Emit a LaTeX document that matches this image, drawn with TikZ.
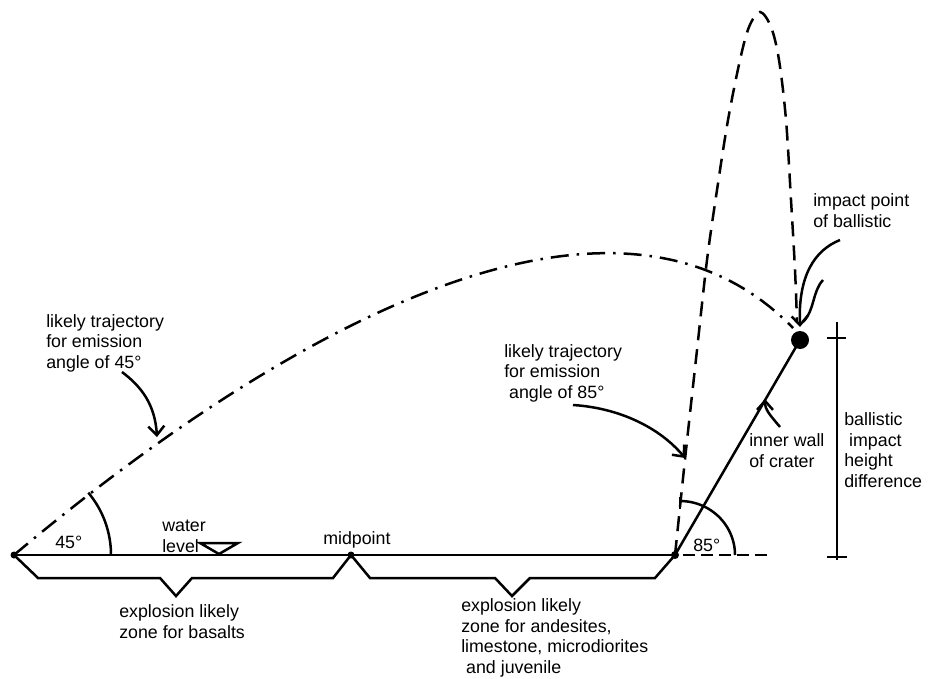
\documentclass[tikz,border=0pt]{standalone}
\usepackage{fontspec}
\setmainfont{Liberation Sans}
\usetikzlibrary{arrows.meta}
\begin{document}
\begin{tikzpicture}[x=1pt,y=-1pt,line width=2.5pt,
  lbl/.style={font=\fontsize{17.8}{20.5}\selectfont,align=left,anchor=base west,inner sep=0pt},
  ptr/.style={-{Straight Barb[length=9pt,width=16pt]}},
  dashdotline/.style={dash pattern=on 18pt off 8pt on 2.5pt off 8pt},
  dashline/.style={dash pattern=on 15pt off 9pt},
  shortdash/.style={dash pattern=on 12pt off 6pt},
  dot/.style={circle,fill,inner sep=0pt,minimum size=#1}]
\useasboundingbox (0,0) rectangle (936,679);

% key points
\node[dot=7pt] (O) at (14,555) {};
\node[dot=7pt] (M) at (351,555) {};
\node[dot=8pt] (R) at (675,555) {};
\node[dot=18pt] (I) at (800,340) {};

% ground line
\draw (O.center) -- (M.center) -- (R.center);
\draw[shortdash] (683,555) -- (770,555);

% braces
\draw (O.center) -- (38,578) -- (160,578) -- (176,596) -- (192,578) -- (333,578) -- (M.center);
\draw (M.center) -- (370,578) -- (495,578) -- (512,596) -- (530,578) -- (655,578) -- (R.center);

% water level triangle
\draw (200,543) -- (238,543) -- (219,554) -- cycle;

% angle arcs
\draw plot[domain=0:40,samples=30,smooth] ({14+97*cos(\x)},{555-97*sin(\x)});
\draw plot[domain=0:90,samples=30,smooth] ({680+55*cos(\x)},{555-54*sin(\x)});
\draw[line width=2pt] (680,497) -- (680,509);

% inner wall of crater
\draw (R.center) -- (I.center);

% 45 degree trajectory
\coordinate (E45) at (793,328);
\draw[dashdotline] (O.center) .. controls (270,340) and (610,140) .. (E45);

% 85 degree trajectory
\draw[dashline] plot[smooth,tension=0.55] coordinates {(675,555) (686,450) (697,350) (707,260) (717,190) (728,120) (740,60) (749,27) (760,12) (771,27) (779,60) (786,120) (791,200) (795,270) (797,322)};

% height difference bar
\coordinate (BT) at (837,322);
\coordinate (BB) at (837,560);
\draw (BT) -- (BB);
\draw (827,338) -- (846,338);
\draw (827,557) -- (847,557);

% labels (anchor = baseline of last line)
\node[lbl] (L45) at (45,368) {likely trajectory\\for emission\\angle of 45°};
\node[lbl] (L85) at (503,398) {likely trajectory\\for emission\\\ angle of 85°};
\node[lbl] (Lwat) at (161,552) {water\\level};
\node[lbl] (Lang45) at (54,548) {45°};
\node[lbl] (Lmid) at (322,544) {midpoint};
\node[lbl] (Lang85) at (692,551) {85°};
\node[lbl] (Lbas) at (118,638) {explosion likely\\zone for basalts};
\node[lbl] (Land) at (460,673) {explosion likely\\zone for andesites,\\limestone, microdiorites\\\ and juvenile};
\node[lbl] (Limp) at (812,227) {impact point\\of ballistic};
\node[lbl] (Lwall) at (748,467) {inner wall\\of crater};
\node[lbl] (Lbal) at (843,487) {ballistic\\\ impact\\height\\difference};

% pointer arrows
\coordinate (a45s) at (122,372);
\coordinate (a45e) at (157,437);
\draw[ptr] (a45s) .. controls (142,387) and (155,405) .. (a45e);
\coordinate (a85s) at (573,405);
\coordinate (a85e) at (685,458);
\draw[ptr] (a85s) .. controls (620,408) and (660,428) .. (a85e);
\coordinate (aims) at (840,240);
\coordinate (aime) at (800,327);
\draw[ptr] (aims) .. controls (815,250) and (798,275) .. (aime);
\draw (823,280) .. controls (812,292) and (815,310) .. (803,322);
\coordinate (aws) at (780,427);
\coordinate (awe) at (765,399);
\draw[ptr] (aws) .. controls (770,415) and (765,410) .. (awe);
\end{tikzpicture}
\end{document}
